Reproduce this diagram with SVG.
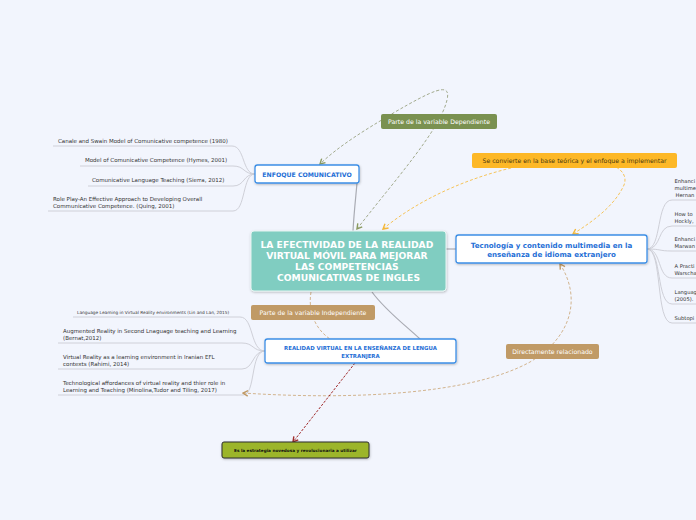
<svg xmlns="http://www.w3.org/2000/svg" width="696" height="520" viewBox="0 0 696 520">
<defs>
<style>
.leaf{font-family:"DejaVu Sans",Verdana,sans-serif;font-size:5.5px;fill:#333}
.small{font-size:4.3px}
.edge{font-size:5.2px}
.br{fill:none;stroke:#cfd0d8;stroke-width:1}
.node{fill:#fff;stroke:#3d8fe6;stroke-width:1.3}
.ntxt{font-family:"DejaVu Sans",Verdana,sans-serif;font-weight:bold;fill:#1f6fd6;text-anchor:middle}
.lbl{font-family:"DejaVu Sans",Verdana,sans-serif;font-size:6.2px;text-anchor:middle}
.solid{fill:none;stroke:#a9abb3;stroke-width:1.2}
</style>
<marker id="aGreen" viewBox="0 0 10 10" refX="8" refY="5" markerWidth="7" markerHeight="7" orient="auto-start-reverse" markerUnits="userSpaceOnUse"><path d="M1,1 L8,5 L1,9" fill="none" stroke="#8a9a60" stroke-width="2"/></marker>
<marker id="aOrange" viewBox="0 0 10 10" refX="8" refY="5" markerWidth="7" markerHeight="7" orient="auto-start-reverse" markerUnits="userSpaceOnUse"><path d="M1,1 L8,5 L1,9" fill="none" stroke="#f4b83a" stroke-width="2"/></marker>
<marker id="aTan" viewBox="0 0 10 10" refX="8" refY="5" markerWidth="7" markerHeight="7" orient="auto-start-reverse" markerUnits="userSpaceOnUse"><path d="M1,1 L8,5 L1,9" fill="none" stroke="#c09a66" stroke-width="2"/></marker>
<marker id="aRed" viewBox="0 0 10 10" refX="8" refY="5" markerWidth="7" markerHeight="7" orient="auto" markerUnits="userSpaceOnUse"><path d="M1,1 L8,5 L1,9" fill="none" stroke="#a02a2a" stroke-width="2"/></marker>
<filter id="sh" x="-10%" y="-20%" width="120%" height="150%"><feDropShadow dx="0.5" dy="1" stdDeviation="0.8" flood-color="#000" flood-opacity="0.25"/></filter>
</defs>
<rect width="696" height="520" fill="#f2f5fd"/>

<g id="connectors">
<path class="br" d="M53,146 L232,146 C245,146 242,174 255,174"/>
<path class="br" d="M80,166 L233,166 C245,166 243,174 255,174"/>
<path class="br" d="M88,186 L233,186 C245,186 243,174 255,174"/>
<path class="br" d="M48,211 L233,211 C246,211 242,174 255,174"/>
<path class="br" d="M647,249 C662,249 656,200 672,200 L696,200"/>
<path class="br" d="M647,249 C662,249 657,226 672,226 L696,226"/>
<path class="br" d="M647,249 C662,249 658,251 672,251 L696,251"/>
<path class="br" d="M647,249 C662,249 657,278 672,278 L696,278"/>
<path class="br" d="M647,249 C662,249 656,304 672,304 L696,304"/>
<path class="br" d="M647,249 C663,249 655,323 672,323 L696,323"/>
<path class="br" d="M73,317 L240,317 C254,317 250,351 265,351"/>
<path class="br" d="M58,343 L242,343 C254,343 252,351 265,351"/>
<path class="br" d="M58,369 L242,369 C254,369 252,351 265,351"/>
<path class="br" d="M58,395 L243,395 C256,395 250,351 265,351"/>
<path class="solid" d="M353,231 C354,212 356,195 357,183"/>
<path class="solid" d="M446,249 L456,249"/>
<path class="solid" d="M372,292 C385,310 405,325 420,339"/>
<path d="M357,229 C395,180 440,130 447,100 C452,80 430,92 395,112 C365,130 340,145 320,164" fill="none" stroke="#a3ab8e" stroke-width="1" stroke-dasharray="3,2" marker-start="url(#aGreen)" marker-end="url(#aGreen)"/>
<path d="M383,229 C430,190 500,165 560,160 C610,156 630,170 624,185 C615,205 595,220 573,234" fill="none" stroke="#f6c45a" stroke-width="1" stroke-dasharray="3,2" marker-start="url(#aOrange)" marker-end="url(#aOrange)"/>
<path d="M311,292 C308,310 314,328 330,339" fill="none" stroke="#d2b48e" stroke-width="1" stroke-dasharray="3,2"/>
<path d="M243,393 C350,400 470,395 530,362 C575,335 580,295 560,264" fill="none" stroke="#d2b48e" stroke-width="1" stroke-dasharray="3,2" marker-start="url(#aTan)" marker-end="url(#aTan)"/>
<path d="M355,363 L293,442" fill="none" stroke="#a02a2a" stroke-width="1" stroke-dasharray="2.5,1.5" marker-end="url(#aRed)"/>
</g>

<g id="leaves-enfoque">
<text class="leaf" x="58" y="143">Canale and Swain Model of Comunicative competence (1980)</text>
<text class="leaf" x="85" y="162">Model of Comunicative Competence (Hymes, 2001)</text>
<text class="leaf" x="92" y="182">Comunicative Language Teaching (Sierra, 2012)</text>
<text class="leaf" x="53" y="201">Role Play-An Effective Approach to Developing Overall</text>
<text class="leaf" x="53" y="208">Communicative Competence. (Quing, 2001)</text>
</g>

<g id="leaves-tecnologia">
<text class="leaf edge" x="674.5" y="183">Enhanci</text>
<text class="leaf edge" x="674.5" y="190">multime</text>
<text class="leaf edge" x="675.5" y="197">Hernan</text>
<text class="leaf edge" x="674.5" y="216">How to</text>
<text class="leaf edge" x="674.5" y="223">Hockly,</text>
<text class="leaf edge" x="674.5" y="241">Enhanci</text>
<text class="leaf edge" x="674.5" y="248">Marwan</text>
<text class="leaf edge" x="674.5" y="268">A Practi</text>
<text class="leaf edge" x="674.5" y="275">Warscha</text>
<text class="leaf edge" x="674.5" y="294">Languag</text>
<text class="leaf edge" x="674.5" y="301">(2005).</text>
<text class="leaf edge" x="674.5" y="320">Subtopi</text>
</g>

<g id="leaves-realidad">
<text class="leaf small" x="77" y="314">Language Learning in Virtual Reality environments (Lin and Lan, 2015)</text>
<text class="leaf" x="63" y="333">Augmented Reality in Second Lnaguage teaching and Learning</text>
<text class="leaf" x="63" y="340">(Bernat,2012)</text>
<text class="leaf" x="63" y="359">Virtual Reality as a learning environment in Iranian EFL</text>
<text class="leaf" x="63" y="366">contexts (Rahimi, 2014)</text>
<text class="leaf" x="63" y="385">Technological affordances of virtual reality and thier role in</text>
<text class="leaf" x="63" y="392">Learning and Teaching (Minolina,Tudor and Tiling, 2017)</text>
</g>

<g id="central">
<rect x="251" y="231" width="195" height="60" rx="3" fill="#80cdc1" stroke="#e6f5f2" stroke-width="1" filter="url(#sh)"/>
<text font-family="DejaVu Sans,Verdana,sans-serif" font-weight="bold" font-size="9.2" fill="#fff" text-anchor="middle">
<tspan x="348.5" y="248">LA EFECTIVIDAD DE LA REALIDAD</tspan>
<tspan x="348.5" y="259">VIRTUAL MÓVIL PARA MEJORAR</tspan>
<tspan x="348.5" y="269.5">LAS COMPETENCIAS</tspan>
<tspan x="348.5" y="280.5">COMUNICATIVAS DE INGLES</tspan>
</text>
</g>

<g id="enfoque">
<rect class="node" x="255" y="165" width="104" height="18" rx="2.5" filter="url(#sh)"/>
<text class="ntxt" x="307" y="176.5" font-size="6.2">ENFOQUE COMUNICATIVO</text>
</g>

<g id="tecnologia">
<rect class="node" x="456" y="235" width="191" height="28" rx="2.5" filter="url(#sh)"/>
<text class="ntxt" font-size="7.1"><tspan x="551.5" y="247.5">Tecnología y contenido multimedia en la</tspan><tspan x="551.5" y="256.5">enseñanza de idioma extranjero</tspan></text>
</g>

<g id="realidad">
<rect class="node" x="265" y="339" width="191" height="24" rx="2.5" filter="url(#sh)"/>
<text class="ntxt" font-size="5.4"><tspan x="360.5" y="350">REALIDAD VIRTUAL EN LA ENSEÑANZA DE LENGUA</tspan><tspan x="360.5" y="357.5">EXTRANJERA</tspan></text>
</g>

<g id="estrategia">
<rect x="222" y="442" width="147" height="16" rx="2" fill="#9cb52c" stroke="#2e2e2e" stroke-width="1" filter="url(#sh)"/>
<text x="295.5" y="451.8" font-family="DejaVu Sans,Verdana,sans-serif" font-weight="bold" font-size="4.2" fill="#111" text-anchor="middle">Es la estrategia novedosa y revolucionaria a utilizar</text>
</g>

<g id="lbl-dependiente">
<rect x="381" y="114" width="116" height="15" rx="2" fill="#7a9150"/>
<text class="lbl" x="439" y="123.8" fill="#fff">Parte de la variable Dependiente</text>
</g>

<g id="lbl-base">
<rect x="472" y="153" width="205" height="15" rx="2" fill="#fdb827"/>
<text class="lbl" x="574.5" y="162.8" fill="#4a3a10">Se convierte en la base teórica y el enfoque a implementar</text>
</g>

<g id="lbl-independiente">
<rect x="251" y="305" width="124" height="15" rx="2" fill="#c09a66"/>
<text class="lbl" x="313" y="314.8" fill="#fff">Parte de la variable Independiente</text>
</g>

<g id="lbl-directamente">
<rect x="506" y="344" width="93" height="15" rx="2" fill="#c09a66"/>
<text class="lbl" x="552.5" y="353.8" fill="#fff">Directamente relacionado</text>
</g>
</svg>
